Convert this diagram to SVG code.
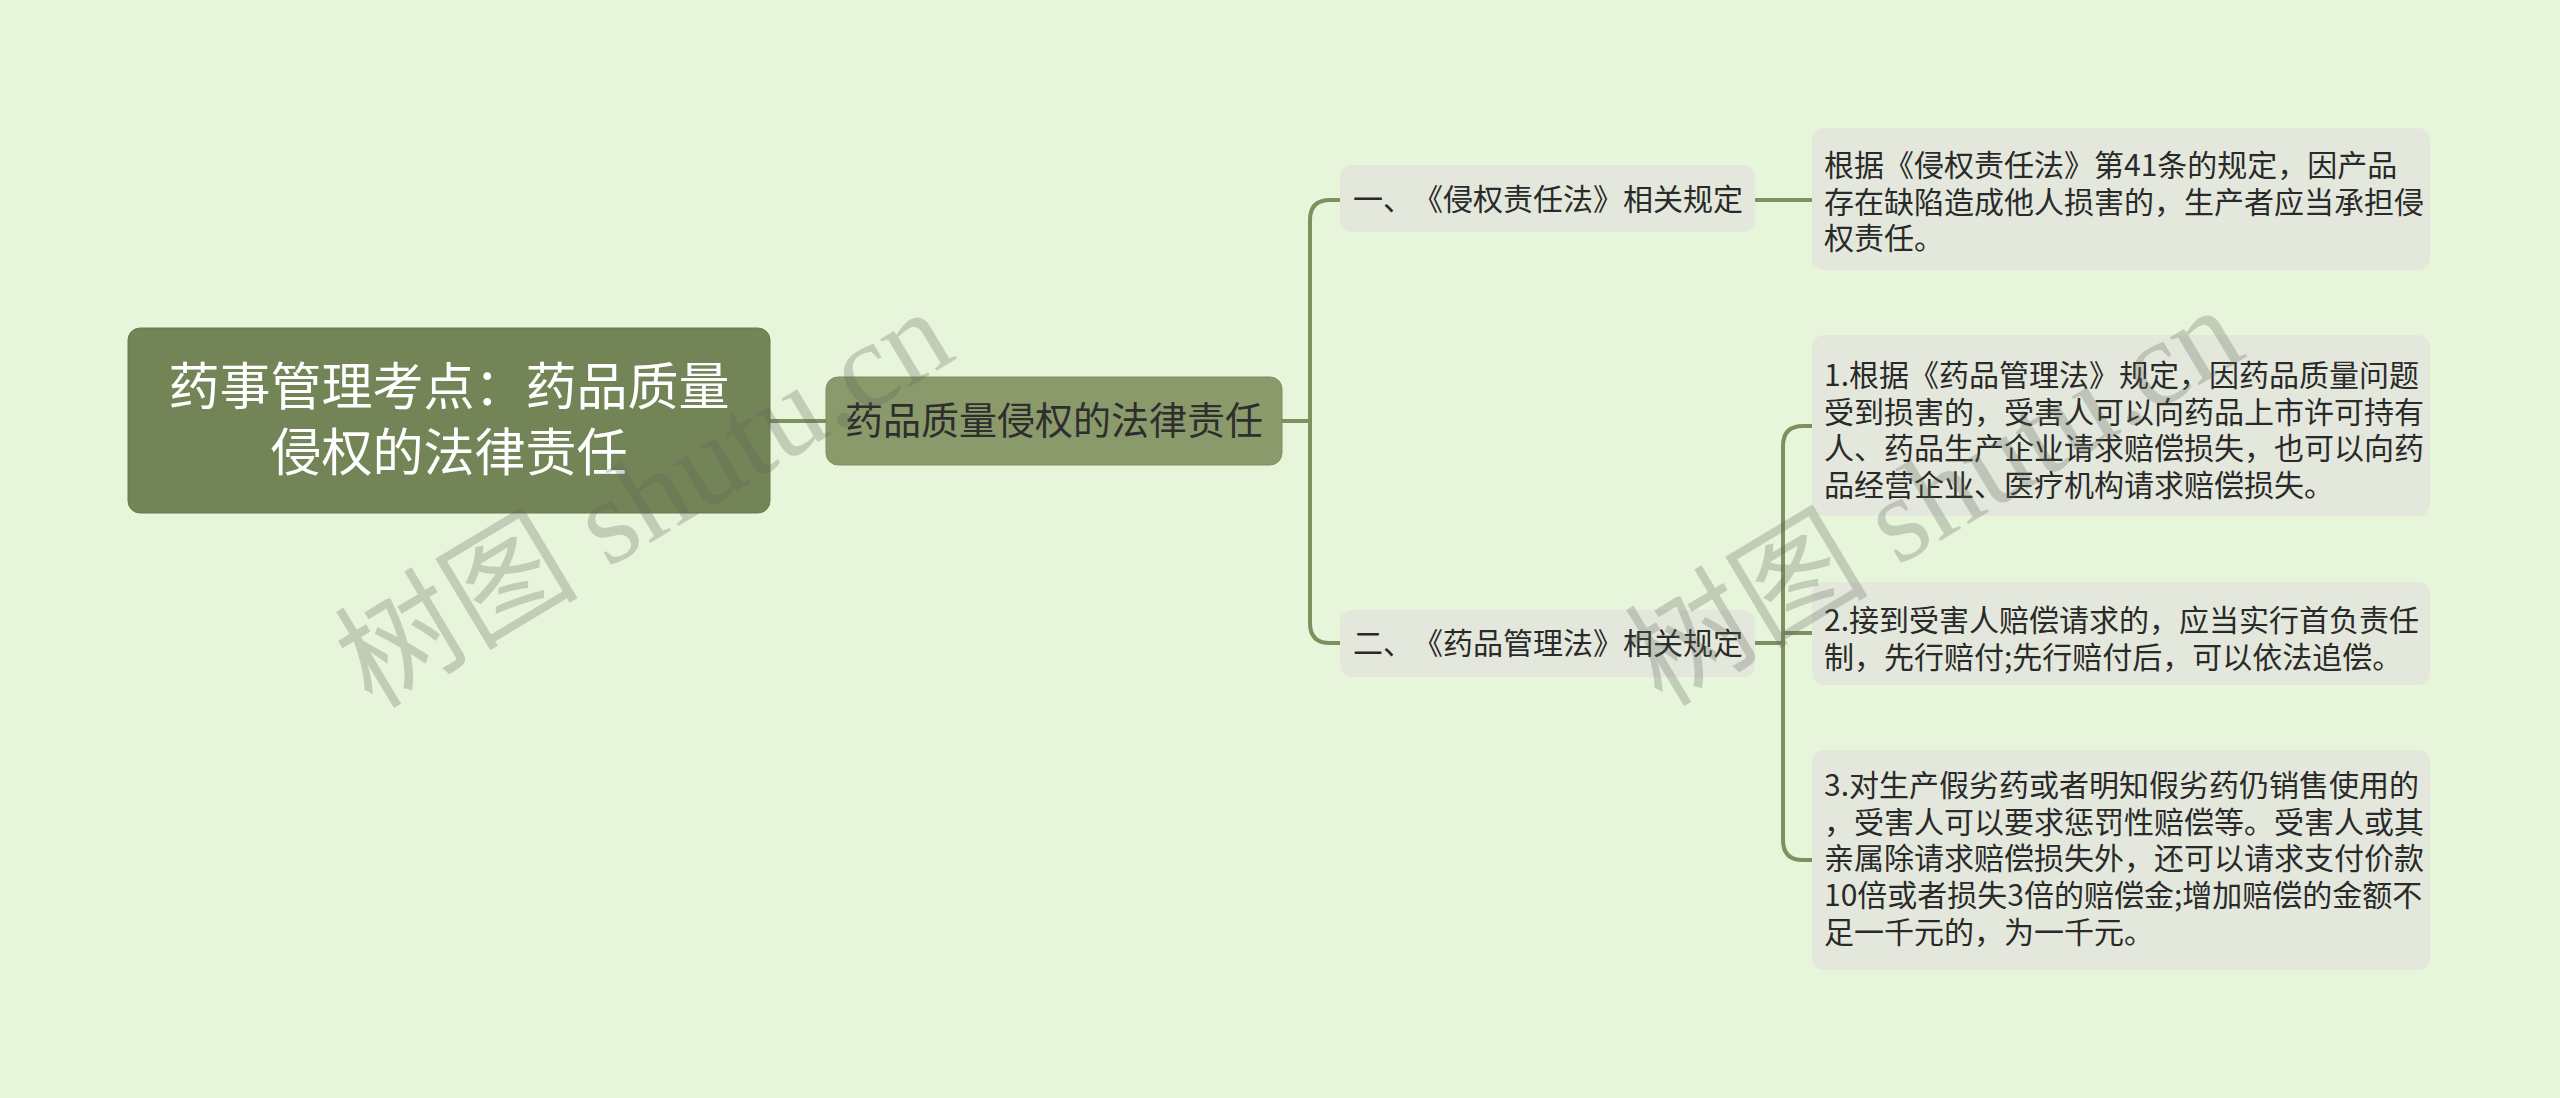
<svg xmlns="http://www.w3.org/2000/svg" width="2560" height="1098" viewBox="0 0 2560 1098">
<style>
.cjk{font-family:"Noto Sans CJK SC","Noto Sans",sans-serif;text-spacing-trim:space-all}
.root-box{fill:#738557;stroke:#6a7b50;stroke-width:1}
.root-t{fill:#ffffff;font-size:51px;text-anchor:middle}
.l1-box{fill:#8b9a6b;stroke:#7f8e61;stroke-width:1}
.l1-t{fill:#2e2e2e;font-size:38px;text-anchor:middle}
.l2-box{fill:#e4e8dc}
.t30{fill:#2a2a2a;font-size:30px}
.conn{fill:none;stroke:#7e8f60;stroke-width:4;stroke-linecap:round}
.wm{font-family:"Liberation Serif","Noto Sans CJK SC",serif;font-size:122px;fill:#5f6659;opacity:0.27}
</style>
<rect width="2560" height="1098" fill="#e7f5db"/>
<g id="connectors">
<path class="conn" d="M770,421 H826"/>
<path class="conn" d="M1282,421 H1310"/>
<path class="conn" d="M1310,421 V220 Q1310,200 1330,200 H1340"/>
<path class="conn" d="M1310,421 V623 Q1310,643 1330,643 H1340"/>
<path class="conn" d="M1755,200 H1812"/>
<path class="conn" d="M1755,643 H1783"/>
<path class="conn" d="M1783,643 V446 Q1783,426 1803,426 H1812"/>
<path class="conn" d="M1783,633 H1812"/>
<path class="conn" d="M1783,643 V840 Q1783,860 1803,860 H1812"/>
</g>
<g id="root">
<rect class="root-box" x="128" y="328" width="642" height="185" rx="12"/>
<text class="cjk root-t" x="449" y="405">药事管理考点：药品质量</text>
<text class="cjk root-t" x="449" y="471">侵权的法律责任</text>
</g>
<g id="n-main">
<rect class="l1-box" x="826" y="377" width="456" height="88" rx="12"/>
<text class="cjk l1-t" x="1054" y="434">药品质量侵权的法律责任</text>
</g>
<g id="n-tort">
<rect class="l2-box" x="1340" y="165" width="415" height="67" rx="12"/>
<text class="cjk t30" x="1353" y="210">一、<tspan x="1413">《侵权责任法》相关规定</tspan></text>
</g>
<g id="n-drug">
<rect class="l2-box" x="1340" y="610" width="415" height="67" rx="12"/>
<text class="cjk t30" x="1353" y="654">二、<tspan x="1413">《药品管理法》相关规定</tspan></text>
</g>
<g id="leaf-1">
<rect class="l2-box" x="1812" y="128" width="618" height="142" rx="12"/>
<text class="cjk t30" x="1824" y="176">根据《侵权责任法》第41条的规定，因产品</text>
<text class="cjk t30" x="1824" y="213">存在缺陷造成他人损害的，生产者应当承担侵</text>
<text class="cjk t30" x="1824" y="249">权责任。</text>
</g>
<g id="leaf-2">
<rect class="l2-box" x="1812" y="335" width="618" height="181" rx="12"/>
<text class="cjk t30" x="1824" y="386">1.根据《药品管理法》规定，因药品质量问题</text>
<text class="cjk t30" x="1824" y="423">受到损害的，受害人可以向药品上市许可持有</text>
<text class="cjk t30" x="1824" y="459">人、药品生产企业请求赔偿损失，也可以向药</text>
<text class="cjk t30" x="1824" y="496">品经营企业、医疗机构请求赔偿损失。</text>
</g>
<g id="leaf-3">
<rect class="l2-box" x="1812" y="582" width="618" height="103" rx="12"/>
<text class="cjk t30" x="1824" y="631">2.接到受害人赔偿请求的，应当实行首负责任</text>
<text class="cjk t30" x="1824" y="668">制，先行赔付;先行赔付后，可以依法追偿。</text>
</g>
<g id="leaf-4">
<rect class="l2-box" x="1812" y="750" width="618" height="220" rx="12"/>
<text class="cjk t30" x="1824" y="796">3.对生产假劣药或者明知假劣药仍销售使用的</text>
<text class="cjk t30" x="1824" y="833">，受害人可以要求惩罚性赔偿等。受害人或其</text>
<text class="cjk t30" x="1824" y="869">亲属除请求赔偿损失外，还可以请求支付价款</text>
<text class="cjk t30" x="1824" y="906">10倍或者损失3倍的赔偿金;增加赔偿的金额不</text>
<text class="cjk t30" x="1824" y="943">足一千元的，为一千元。</text>
</g>
<g id="watermarks">
<text class="wm" x="372" y="710" transform="rotate(-31 372 710)">树图 shutu.cn</text>
<text class="wm" x="1662" y="708" transform="rotate(-31 1662 708)">树图 shutu.cn</text>
</g>
</svg>
